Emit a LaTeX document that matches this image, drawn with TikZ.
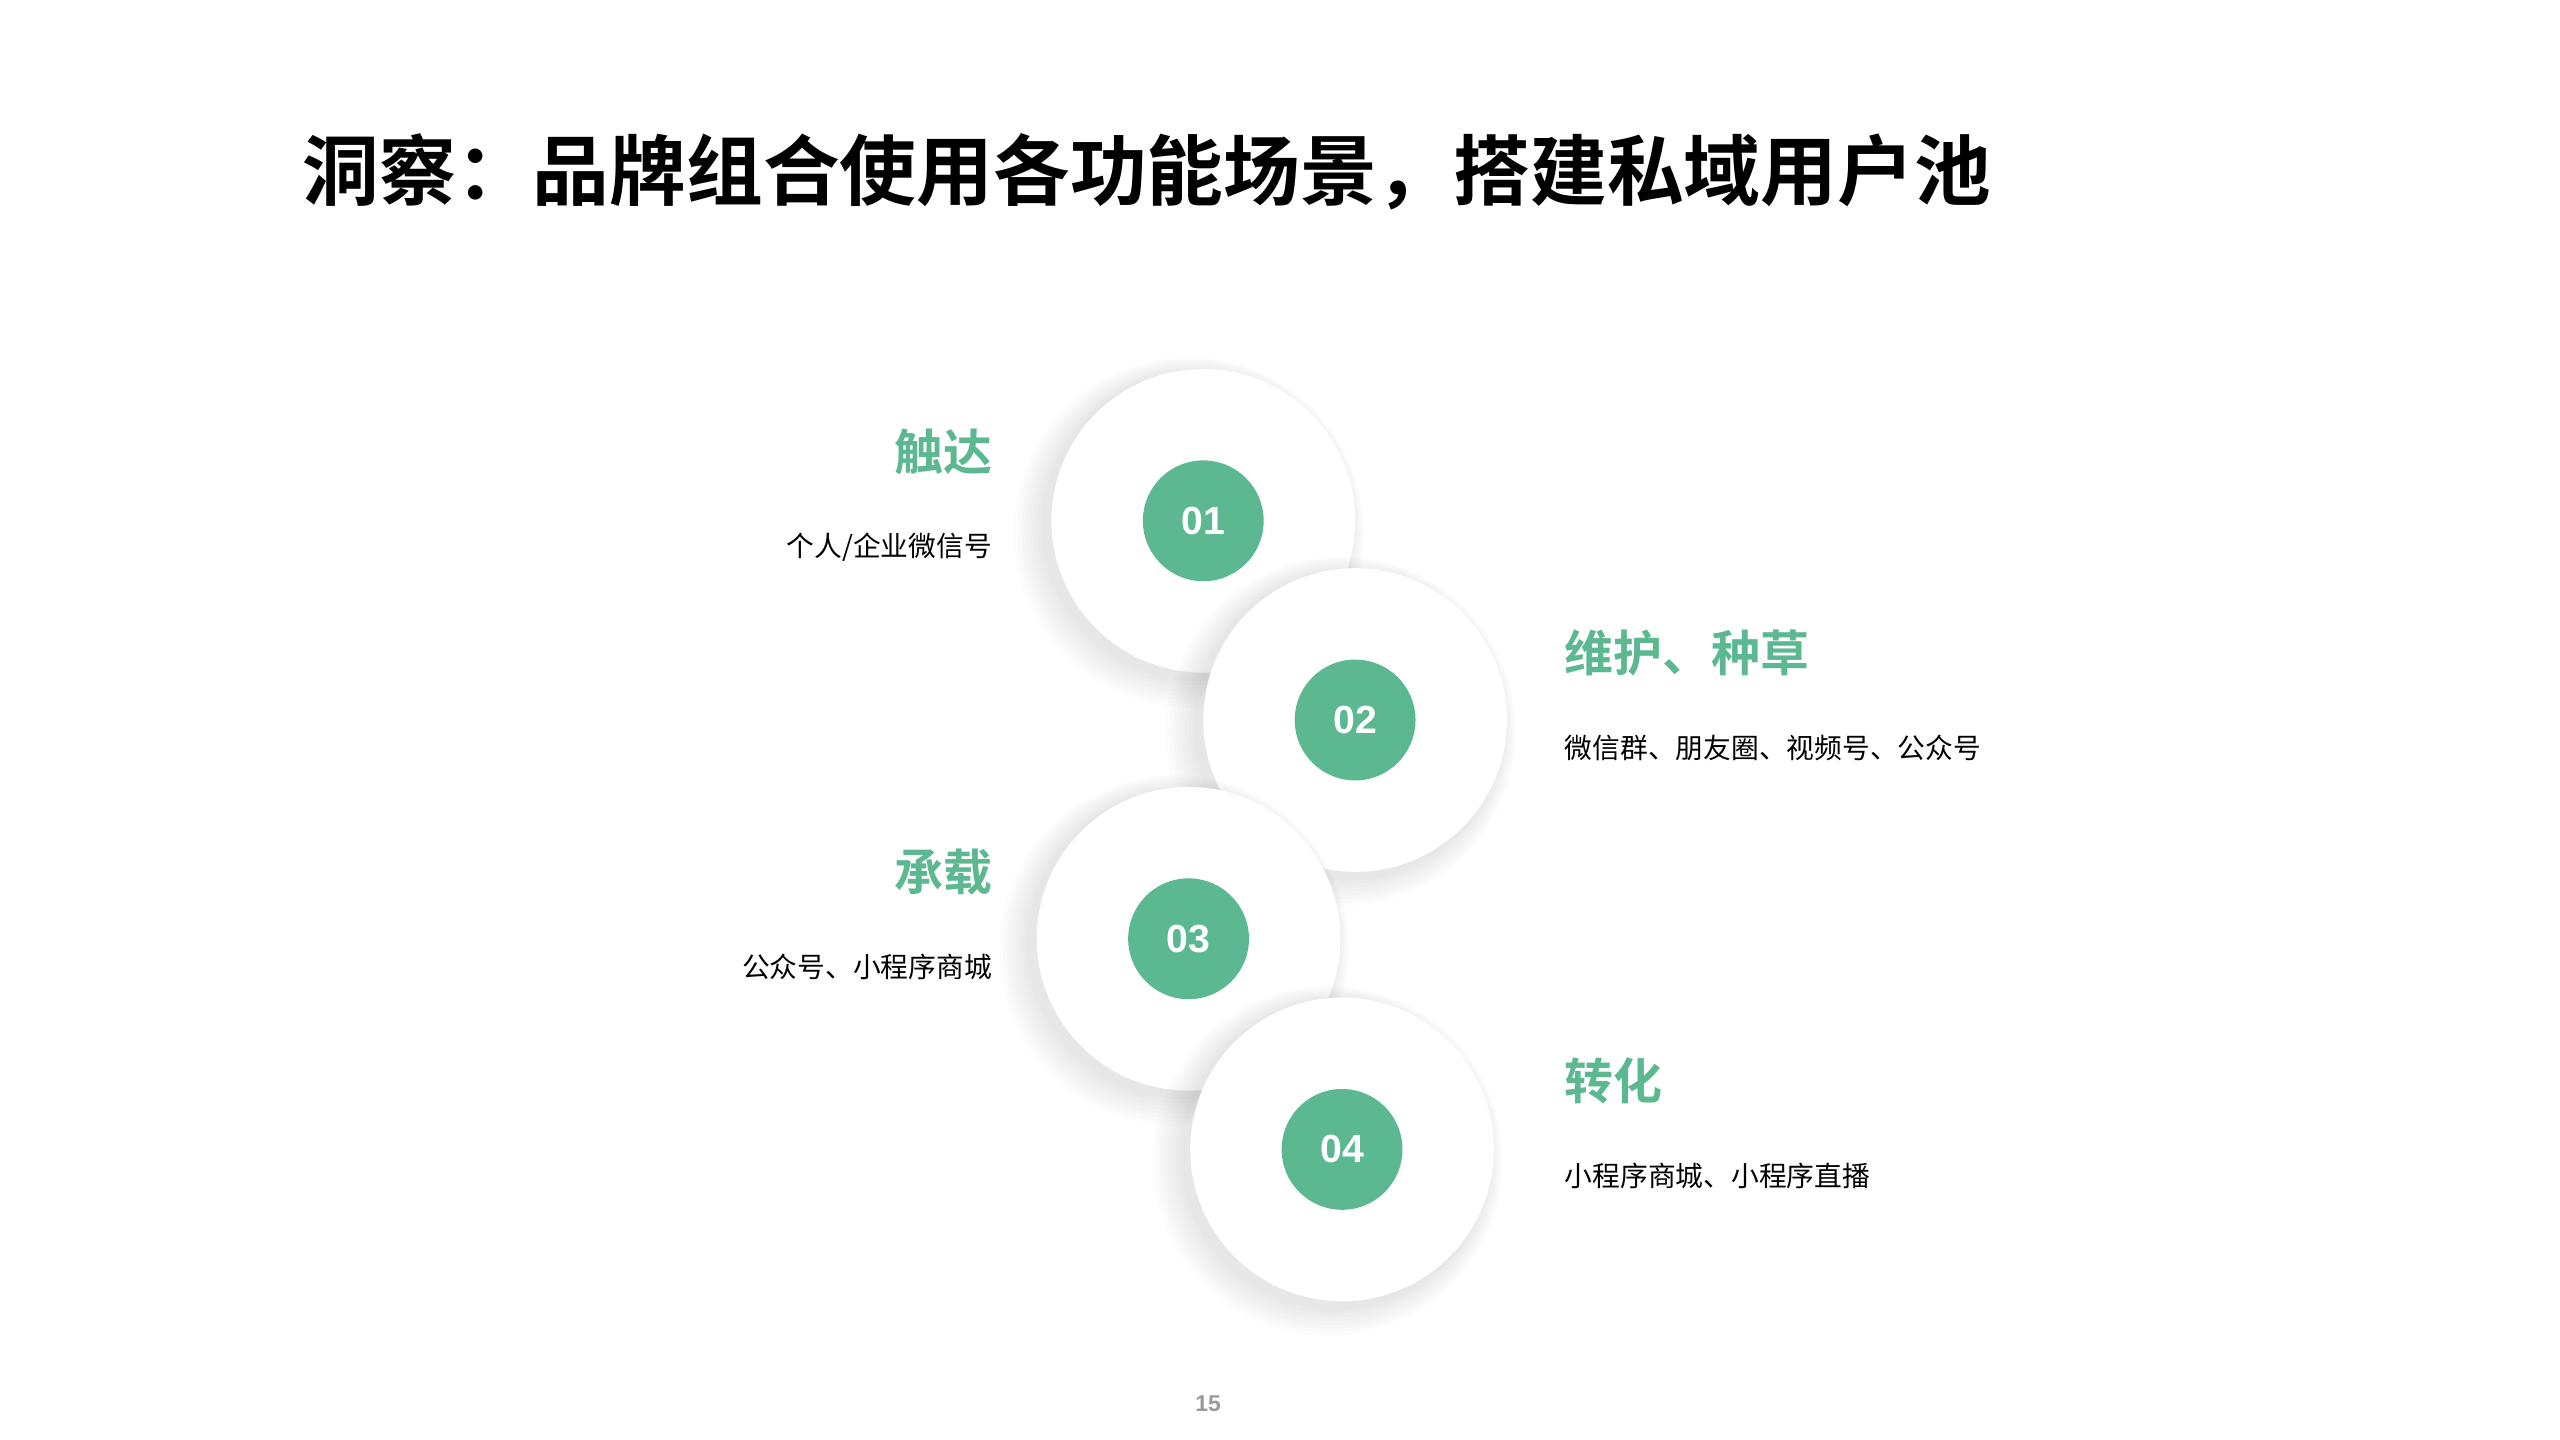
\documentclass[tikz,border=0pt]{standalone}
\usepackage{fontspec}
\setmainfont{Liberation Sans}
\newfontfamily\cjk{Noto Sans CJK SC}
\newfontfamily\cjkb{Noto Sans CJK SC Bold}
\definecolor{mint}{RGB}{91,184,145}
\tikzset{
  disc/.style={circle,fill=white,minimum size=93pt,inner sep=0pt},
  badge/.style={circle,fill=mint,minimum size=37pt,inner sep=0pt,text=white,font=\bfseries\fontsize{12}{12}\selectfont},
  head/.style={text=mint,font=\cjkb\fontsize{15}{15}\selectfont,inner sep=0pt},
  desc/.style={font=\cjk\fontsize{8.5}{8.5}\selectfont,inner sep=0pt}
}
\newcommand{\softdisc}[2]{%
  \foreach \k in {1,...,8}
    \fill[black,opacity=0.012] ($(#1)+(-4-\k*0.6,3+\k*0.5)$) circle (93+\k*1.8);
  \node[disc] (#2) at (#1) {};}
\usetikzlibrary{calc}
\begin{document}
\begin{tikzpicture}[x=0.5pt,y=-0.5pt]
\useasboundingbox (0,0) rectangle (1568,882);
\fill[white] (0,0) rectangle (1568,882);
% title
\node[anchor=west,inner sep=0pt,font=\cjkb\fontsize{23.5}{23.5}\selectfont] (title) at (185,105) {洞察：品牌组合使用各功能场景，搭建私域用户池};
% discs
\softdisc{737,319}{c1}
\softdisc{830,441}{c2}
\softdisc{728,575}{c3}
\softdisc{822,704}{c4}
\node[badge] (b1) at (c1) {01};
\node[badge] (b2) at (c2) {02};
\node[badge] (b3) at (c3) {03};
\node[badge] (b4) at (c4) {04};
% labels
\node[head,anchor=east] (h1) at (608,277) {触达};
\node[desc,anchor=east] (d1) at (608,335) {个人/企业微信号};
\node[head,anchor=west] (h2) at (958,400) {维护、种草};
\node[desc,anchor=west] (d2) at (958,458) {微信群、朋友圈、视频号、公众号};
\node[head,anchor=east] (h3) at (608,534) {承载};
\node[desc,anchor=east] (d3) at (608,592) {公众号、小程序商城};
\node[head,anchor=west] (h4) at (958,662) {转化};
\node[desc,anchor=west] (d4) at (958,720) {小程序商城、小程序直播};
\node[text=black!40,font=\bfseries\fontsize{7}{7}\selectfont] (page) at (740,860) {15};
\end{tikzpicture}
\end{document}
